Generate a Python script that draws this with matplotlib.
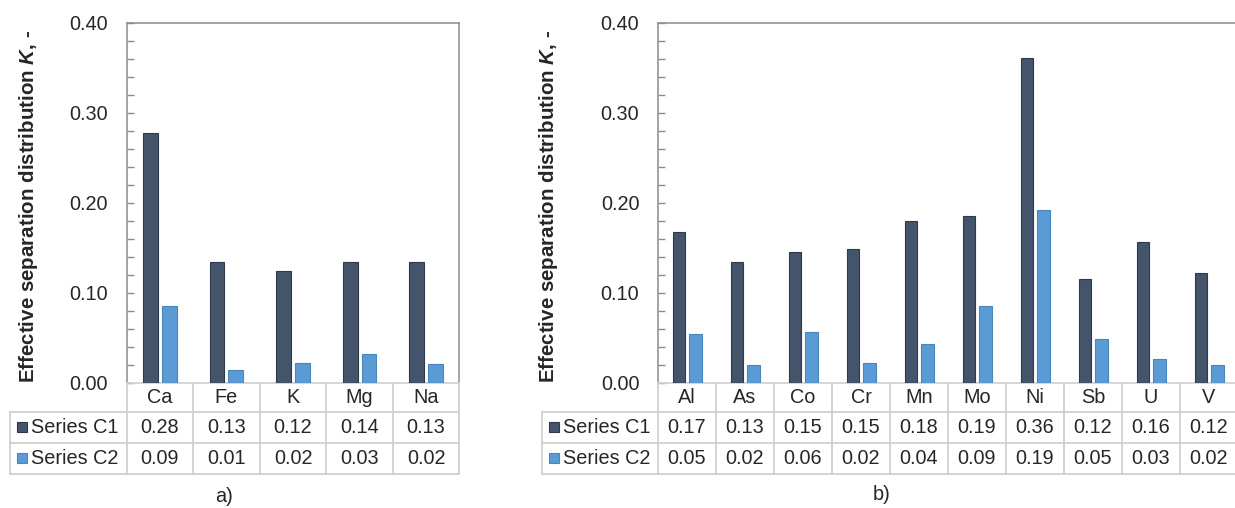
import numpy as np
import matplotlib
matplotlib.use("Agg")
import matplotlib.pyplot as plt
from matplotlib.lines import Line2D
from matplotlib.patches import Rectangle
from matplotlib.ticker import MultipleLocator, FormatStrFormatter
from matplotlib.transforms import Affine2D, blended_transform_factory

plt.rcParams["font.family"] = ["Liberation Sans", "DejaVu Sans"]
plt.rcParams["mathtext.fontset"] = "custom"
plt.rcParams["mathtext.it"] = "Liberation Sans:italic:bold"
plt.rcParams["mathtext.rm"] = "Liberation Sans:bold"

# panel a
cats_a = ["Ca", "Fe", "K", "Mg", "Na"]
c1_a = [0.278, 0.134, 0.124, 0.134, 0.134]
c2_a = [0.086, 0.014, 0.022, 0.032, 0.021]
t1_a = ["0.28", "0.13", "0.12", "0.14", "0.13"]
t2_a = ["0.09", "0.01", "0.02", "0.03", "0.02"]

# panel b
cats_b = ["Al", "As", "Co", "Cr", "Mn", "Mo", "Ni", "Sb", "U", "V"]
c1_b = [0.168, 0.134, 0.145, 0.149, 0.180, 0.185, 0.361, 0.116, 0.156, 0.122]
c2_b = [0.054, 0.020, 0.057, 0.022, 0.043, 0.086, 0.192, 0.049, 0.027, 0.020]
t1_b = ["0.17", "0.13", "0.15", "0.15", "0.18", "0.19", "0.36", "0.12", "0.16", "0.12"]
t2_b = ["0.05", "0.02", "0.06", "0.02", "0.04", "0.09", "0.19", "0.05", "0.03", "0.02"]

SERIES = ["Series C1", "Series C2"]
C1 = "#44546A"
C1_EDGE = "#2E3A4B"
C2 = "#5B9BD5"
C2_EDGE = "#4A86BE"
GRID = "#D0D0D0"
SPINE = "#8C8C8C"
TXT = "#262626"
FS = 14.3

W, H = 1235, 508
fig = plt.figure(figsize=(W / 100, H / 100), dpi=100)
# pixel coords, origin top-left
PIX = Affine2D().scale(1 / W, -1 / H).translate(0, 1) + fig.transFigure

ROW_Y = [383, 412, 442.5, 473.5]


def px_axes(left, right, top, bottom):
    return fig.add_axes([left / W, 1 - bottom / H, (right - left) / W, (bottom - top) / H])


def draw_panel(ax, cats, c1, c2, t1, t2, table_left, ylabel_x, tag, tag_xy):
    n = len(cats)
    x = np.arange(n)
    ax.bar(x - 0.14, c1, width=0.22, color=C1, edgecolor=C1_EDGE, linewidth=0.8, zorder=3)
    ax.bar(x + 0.14, c2, width=0.22, color=C2, edgecolor=C2_EDGE, linewidth=0.8, zorder=3)
    ax.set_xlim(-0.5, n - 0.5)
    ax.set_ylim(0, 0.40)
    ax.yaxis.set_major_locator(MultipleLocator(0.10))
    ax.yaxis.set_minor_locator(MultipleLocator(0.02))
    ax.yaxis.set_major_formatter(FormatStrFormatter("%.2f"))
    ax.tick_params(axis="y", which="both", direction="in", length=5, width=1.0,
                   color=SPINE, labelsize=FS, labelcolor=TXT, pad=13.5)
    ax.set_xticks([])
    for s in ["top", "left", "right"]:
        ax.spines[s].set_color(SPINE)
        ax.spines[s].set_linewidth(1.1)
    ax.spines["bottom"].set_color(GRID)
    ax.spines["bottom"].set_linewidth(1.2)

    # data table beneath the plot
    tr = blended_transform_factory(ax.transData, PIX)
    kw = dict(color=GRID, linewidth=1.3, clip_on=False)
    for k in range(n + 1):
        fig.add_artist(Line2D([k - 0.5, k - 0.5], [ROW_Y[0], ROW_Y[3]], transform=tr, **kw))
    xr_px = ax.transData.transform((n - 0.5, 0))[0]
    for y in ROW_Y[1:]:
        fig.add_artist(Line2D([table_left, xr_px], [y, y], transform=PIX, **kw))
    fig.add_artist(Line2D([table_left, table_left], [ROW_Y[1], ROW_Y[3]], transform=PIX, **kw))

    rows = [cats, t1, t2]
    for r, vals in enumerate(rows):
        yc = (ROW_Y[r] + ROW_Y[r + 1]) / 2
        for k, v in enumerate(vals):
            fig.text(k, yc, v, transform=tr, ha="center", va="center",
                     fontsize=FS, color=TXT)

    for r, (name, fc, ec) in enumerate(zip(SERIES, [C1, C2], [C1_EDGE, C2_EDGE])):
        yc = (ROW_Y[r + 1] + ROW_Y[r + 2]) / 2
        fig.add_artist(Rectangle((table_left + 7, yc - 5), 10, 10, transform=PIX,
                                 facecolor=fc, edgecolor=ec, linewidth=0.8))
        fig.text(table_left + 21, yc, name, transform=PIX, ha="left", va="center",
                 fontsize=FS, color=TXT)

    fig.text(ylabel_x, 206, r"Effective separation distribution $K$, -", transform=PIX,
             rotation=90, ha="center", va="center", fontsize=14.8, fontweight="bold",
             color=TXT)
    fig.text(tag_xy[0], tag_xy[1], tag, transform=PIX, ha="center", va="center",
             fontsize=FS, color=TXT)


ax_a = px_axes(126.7, 459.3, 22.7, 383)
draw_panel(ax_a, cats_a, c1_a, c2_a, t1_a, t2_a, 10, 29, "a)", (224, 497))

ax_b = px_axes(658, 1238, 22.7, 383)
draw_panel(ax_b, cats_b, c1_b, c2_b, t1_b, t2_b, 541.7, 548, "b)", (882, 495))

fig.savefig("out.png", dpi=100, facecolor="white")
